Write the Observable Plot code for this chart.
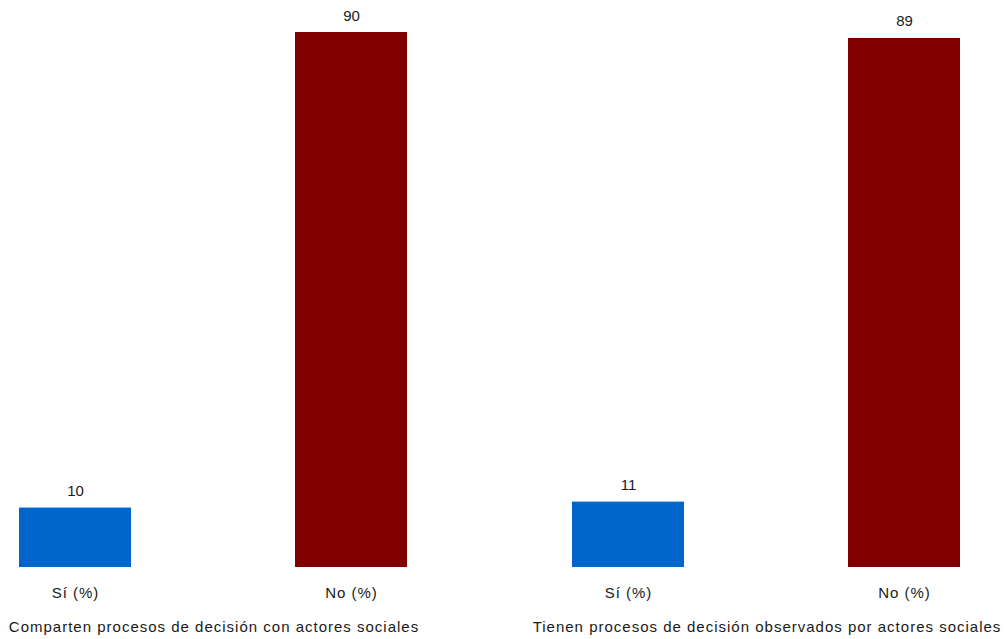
<!DOCTYPE html>
<html>
<head>
<meta charset="utf-8">
<script src="https://cdn.jsdelivr.net/npm/d3@7"></script>
<script src="https://cdn.jsdelivr.net/npm/@observablehq/plot@0.6"></script>
<style>
  html, body { margin: 0; padding: 0; background: #fff; }
  #chart svg { display: block; }
  #chart svg g[aria-label="x-axis tick label"] text,
  #chart svg g[aria-label="fx-axis tick label"] text { letter-spacing: 1px; }
</style>
</head>
<body>
<div id="chart"></div>
<script>
const groups = ["Comparten procesos de decisión con actores sociales", "Tienen procesos de decisión observados por actores sociales"];
const answers = ["Sí (%)", "No (%)"];
const valuesGroup1 = [10, 90];
const valuesGroup2 = [11, 89];
const colors = ["#0066CC", "#800000"];

const data = [];
[valuesGroup1, valuesGroup2].forEach((vals, gi) => {
  vals.forEach((v, ai) => data.push({group: groups[gi], answer: answers[ai], value: v}));
});

const chart = Plot.plot({
  width: 1004,
  height: 639,
  marginTop: 32,
  marginBottom: 72,
  marginLeft: 0,
  marginRight: 24,
  style: {fontFamily: "'Liberation Sans', Arial, sans-serif", fontSize: "15px", color: "#1a1a1a"},
  fx: {domain: groups, paddingInner: 0.228, paddingOuter: 0, label: null},
  x: {domain: answers, paddingInner: 0.594, paddingOuter: 0.07, label: null},
  y: {domain: [0, 90], axis: null},
  color: {domain: answers, range: colors},
  marks: [
    Plot.barY(data, {fx: "group", x: "answer", y: "value", fill: "answer"}),
    Plot.text(data, {fx: "group", x: "answer", y: "value", text: d => String(d.value), lineAnchor: "bottom", dy: -12, fontSize: 15, fill: "#1a1a1a"}),
    Plot.axisX({tickSize: 0, tickPadding: 20, fontSize: 15, label: null}),
    Plot.axisFx({anchor: "bottom", tickSize: 0, tickPadding: 54, fontSize: 15, label: null})
  ]
});
document.getElementById("chart").appendChild(chart);
</script>
</body>
</html>
